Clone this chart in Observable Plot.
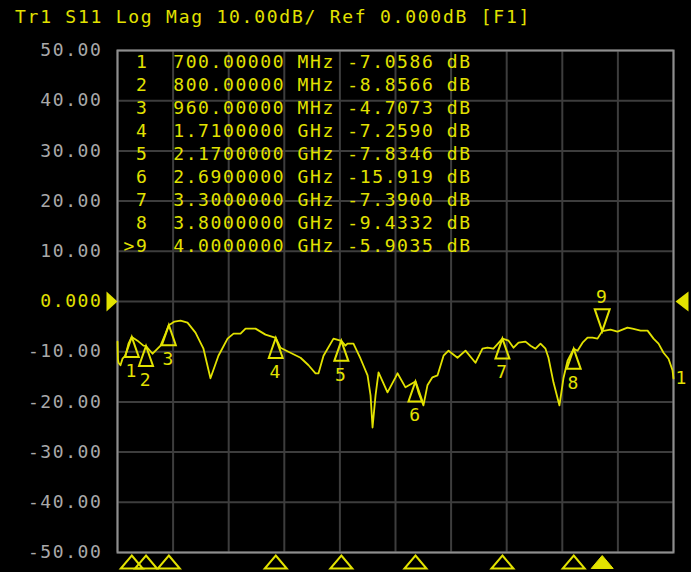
<!DOCTYPE html>
<html>
<head>
<meta charset="utf-8">
<script src="https://cdn.jsdelivr.net/npm/d3@7"></script>
<script src="https://cdn.jsdelivr.net/npm/@observablehq/plot@0.6"></script>
<style>
html, body { margin: 0; padding: 0; background: #000; overflow: hidden; width: 691px; height: 572px; }
#title { height: 36px; line-height: 34px; padding-left: 15px; font-family: "DejaVu Sans Mono", monospace; font-size: 18px; letter-spacing: 1.75px; color: #e2e200; white-space: pre; }
#chart svg { display: block; }
svg text { white-space: pre; }
</style>
</head>
<body>
<div id="title"></div>
<div id="chart"></div>
<script>
const titleText = "Tr1 S11 Log Mag 10.00dB/ Ref 0.000dB [F1]";

// Axes
const xDomain = [0.6, 4.5];           // GHz
const yDomain = [-50, 50];            // dB
const xGrid = [0.6, 0.99, 1.38, 1.77, 2.16, 2.55, 2.94, 3.33, 3.72, 4.11, 4.5];
const yTicks = [50, 40, 30, 20, 10, 0, -10, -20, -30, -40, -50];
const yTickLabels = ["50.00", "40.00", "30.00", "20.00", "10.00", "0.000", "-10.00", "-20.00", "-30.00", "-40.00", "-50.00"];
const refLevel = 0;

// Trace
const traceFreq = [0.600, 0.603, 0.607, 0.621, 0.635, 0.656, 0.677, 0.700, 0.740, 0.782, 0.800, 0.846, 0.902, 0.937, 0.960, 1.000, 1.042, 1.091, 1.147, 1.203, 1.252, 1.308, 1.372, 1.414, 1.463, 1.498, 1.568, 1.638, 1.710, 1.743, 1.813, 1.884, 1.940, 1.989, 2.010, 2.045, 2.115, 2.170, 2.199, 2.213, 2.255, 2.305, 2.354, 2.375, 2.389, 2.410, 2.431, 2.494, 2.550, 2.564, 2.620, 2.690, 2.711, 2.746, 2.774, 2.809, 2.845, 2.887, 2.922, 2.985, 3.041, 3.111, 3.160, 3.195, 3.237, 3.300, 3.343, 3.378, 3.413, 3.462, 3.497, 3.532, 3.567, 3.602, 3.623, 3.658, 3.700, 3.728, 3.757, 3.800, 3.827, 3.862, 3.897, 3.932, 3.967, 4.000, 4.058, 4.107, 4.177, 4.212, 4.269, 4.318, 4.360, 4.395, 4.430, 4.465, 4.493, 4.500];
const traceDb = [-8.0, -11.5, -12.2, -12.7, -11.4, -10.8, -8.4, -7.06, -7.8, -8.8, -8.86, -10.4, -8.8, -6.4, -4.71, -4.0, -3.8, -4.2, -6.2, -9.4, -15.3, -10.8, -7.4, -6.4, -6.4, -5.4, -5.4, -6.6, -7.26, -9.2, -10.2, -11.2, -12.7, -14.3, -14.3, -10.8, -7.4, -7.83, -8.8, -8.4, -8.4, -11.4, -14.7, -18.7, -25.1, -18.7, -14.1, -18.1, -15.1, -14.3, -17.1, -15.92, -18.1, -20.7, -16.7, -15.1, -14.7, -10.8, -9.8, -11.2, -9.8, -12.2, -9.4, -9.2, -9.4, -7.39, -7.8, -9.2, -8.2, -8.0, -8.8, -9.4, -8.4, -9.4, -11.2, -16.1, -20.7, -15.3, -11.8, -9.43, -9.8, -8.2, -7.2, -7.2, -7.4, -5.90, -5.6, -6.0, -5.2, -5.4, -5.8, -5.8, -7.4, -8.4, -10.2, -11.4, -13.7, -15.3];
const traceName = "1";

// Markers
const markerIds = ["1", "2", "3", "4", "5", "6", "7", "8", "9"];
const markerFreq = [0.70, 0.80, 0.96, 1.71, 2.17, 2.69, 3.30, 3.80, 4.00];
const markerDb = [-7.0586, -8.8566, -4.7073, -7.2590, -7.8346, -15.919, -7.3900, -9.4332, -5.9035];
const markerFreqText = ["700.00000", "800.00000", "960.00000", "1.7100000", "2.1700000", "2.6900000", "3.3000000", "3.8000000", "4.0000000"];
const markerUnit = ["MHz", "MHz", "MHz", "GHz", "GHz", "GHz", "GHz", "GHz", "GHz"];
const markerDbText = ["-7.0586", "-8.8566", "-4.7073", "-7.2590", "-7.8346", "-15.919", "-7.3900", "-9.4332", "-5.9035"];
const activeMarker = "9";

const YEL = "#e2e200";
const GRID = "#3d3d3d";
const BORDER = "#8e8e8e";
const LABEL = "#a9a9a9";
const FONT = "DejaVu Sans Mono";

const trace = traceFreq.map((f, i) => ({f, db: traceDb[i]}));
const markers = markerIds.map((id, i) => ({id, f: markerFreq[i], db: markerDb[i], active: id === activeMarker}));
const passive = markers.filter(d => !d.active);
const active = markers.filter(d => d.active);
const tableText = markers.map((d, i) =>
  `${d.active ? ">" : " "}${d.id}  ${markerFreqText[i]} ${markerUnit[i]} ${markerDbText[i]} dB`).join("\n");
const ticks = yTicks.map((v, i) => ({v, label: yTickLabels[i]}));

// custom symbols (apex at the data point)
const triUp = {draw(c) { c.moveTo(0, 0); c.lineTo(7, 20); c.lineTo(-7, 20); c.closePath(); }};
const triDown = {draw(c) { c.moveTo(0, 0); c.lineTo(7.5, -22); c.lineTo(-7.5, -22); c.closePath(); }};
const triBottom = {draw(c) { c.moveTo(0, 3); c.lineTo(11, 16); c.lineTo(-11, 16); c.closePath(); }};
const arrowRight = {draw(c) { c.moveTo(0, 0); c.lineTo(-11, -10); c.lineTo(-11, 10); c.closePath(); }};
const arrowLeft = {draw(c) { c.moveTo(2, 0); c.lineTo(15, -10); c.lineTo(15, 10); c.closePath(); }};

document.getElementById("title").textContent = titleText;

const chart = Plot.plot({
  width: 691,
  height: 536,
  marginTop: 14,
  marginBottom: 20,
  marginLeft: 117,
  marginRight: 18,
  x: {domain: xDomain, axis: null},
  y: {domain: yDomain, axis: null},
  style: {background: "#000", fontFamily: FONT, fontSize: "18px", letterSpacing: "1.6px", overflow: "visible"},
  marks: [
    Plot.ruleX(xGrid, {stroke: GRID, strokeWidth: 2}),
    Plot.ruleY(yTicks, {stroke: GRID, strokeWidth: 2}),
    Plot.frame({stroke: BORDER, strokeWidth: 2}),
    Plot.text([tableText], {text: d => d, frameAnchor: "top-left", textAnchor: "start", lineAnchor: "top",
      dx: 6, dy: 1, lineHeight: 1.278, fill: YEL, fontSize: 18, fontFamily: FONT}),
    Plot.line(trace, {x: "f", y: "db", stroke: YEL, strokeWidth: 1.8}),
    Plot.dot(passive, {x: "f", y: "db", symbol: triUp, stroke: YEL, fill: "none", strokeWidth: 2}),
    Plot.text(passive, {x: "f", y: "db", text: "id", dy: 34, fill: YEL, fontSize: 18, fontFamily: FONT}),
    Plot.dot(active, {x: "f", y: "db", symbol: triDown, stroke: YEL, fill: "none", strokeWidth: 2}),
    Plot.text(active, {x: "f", y: "db", text: "id", dy: -34, fill: YEL, fontSize: 18, fontFamily: FONT}),
    Plot.dot(passive, {x: "f", y: () => yDomain[0], symbol: triBottom, stroke: YEL, fill: "none", strokeWidth: 2}),
    Plot.dot(active, {x: "f", y: () => yDomain[0], symbol: triBottom, stroke: YEL, fill: YEL, strokeWidth: 1}),
    Plot.dot([refLevel], {x: () => xDomain[0], y: d => d, symbol: arrowRight, fill: YEL, stroke: "none"}),
    Plot.dot([refLevel], {x: () => xDomain[1], y: d => d, symbol: arrowLeft, fill: YEL, stroke: "none"}),
    Plot.text(ticks.filter(d => d.v !== refLevel), {x: () => xDomain[0], y: "v", text: "label", textAnchor: "end",
      dx: -15, fill: LABEL, fontSize: 18, fontFamily: FONT}),
    Plot.text(ticks.filter(d => d.v === refLevel), {x: () => xDomain[0], y: "v", text: "label", textAnchor: "end",
      dx: -15, fill: YEL, fontSize: 18, fontFamily: FONT}),
    Plot.text([trace[trace.length - 1]], {x: "f", y: "db", text: () => traceName, textAnchor: "start", dx: 2, dy: 0,
      fill: YEL, fontSize: 18, fontFamily: FONT})
  ]
});
document.getElementById("chart").appendChild(chart);
</script>
</body>
</html>
